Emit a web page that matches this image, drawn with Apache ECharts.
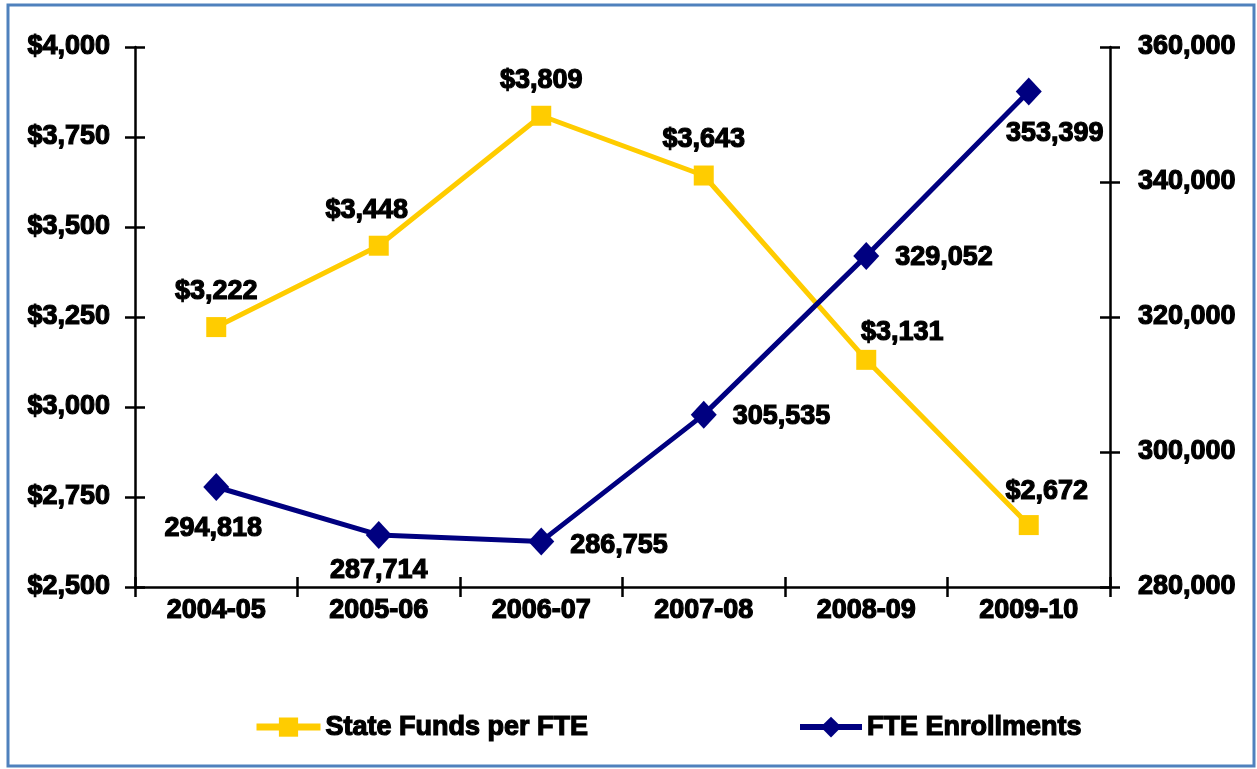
<!DOCTYPE html>
<html>
<head>
<meta charset="utf-8">
<script src="https://cdn.jsdelivr.net/npm/echarts@6/dist/echarts.min.js"></script>
<style>
    html, body { margin: 0; padding: 0; background: #fff; }
    #chart { width: 1257px; height: 769px; }
</style>
</head>
<body>
<div id="chart"></div>
<script>
    // data
    var years = ['2004-05', '2005-06', '2006-07', '2007-08', '2008-09', '2009-10'];
    var fundsPerFte = [3222, 3448, 3809, 3643, 3131, 2672];
    var enrollments = [294818, 287714, 286755, 305535, 329052, 353399];
    var leftTicks = [2500, 4000, 250];
    var rightTicks = [280000, 360000, 20000];

    // label placement per point
    var fundsLabelPos = [
        {position: 'top', offset: [0, 2]},
        {position: 'top', offset: [-12, 2]},
        {position: 'top', offset: [0, 2]},
        {position: 'top', offset: [0, 2]},
        {position: 'top', offset: [36, 10]},
        {position: 'top', offset: [18, 4]}
    ];
    var enrolLabelPos = [
        {position: 'bottom', offset: [-3, -2]},
        {position: 'bottom', offset: [0, -8]},
        {position: 'right', offset: [0, 4]},
        {position: 'right', offset: [0, 2]},
        {position: 'right', offset: [0, 2]},
        {position: 'bottom', offset: [26, -2]}
    ];

    var FONT = 'Liberation Sans';
    var txt = {color: '#000', fontFamily: FONT, fontWeight: 'bold', fontSize: 27,
        textBorderColor: '#000', textBorderWidth: 1.2};

    function money(v) {
        return '$' + v.toLocaleString('en-US');
    }
    function num(v) {
        return v.toLocaleString('en-US');
    }

    var chart = echarts.init(document.getElementById('chart'));

    var axisLine = {show: true, lineStyle: {color: '#000', width: 2.5}};
    var tickOut = {show: true, length: 10, lineStyle: {color: '#000', width: 2.5}};
    var tickIn = {show: true, inside: true, length: 10, lineStyle: {color: '#000', width: 2.5}};

    var legendText = {color: '#000', fontFamily: FONT, fontWeight: 'bold', fontSize: 27,
        textBorderColor: '#000', textBorderWidth: 1.2};

    var option = {
        animation: false,
        backgroundColor: '#fff',
        graphic: [{
            type: 'rect',
            shape: {x: 8, y: 5, width: 1246, height: 761},
            style: {fill: 'none', stroke: '#4F81BD', lineWidth: 3},
            z: 100
        }],
        legend: [{
            left: 248, top: 708,
            itemWidth: 64, itemHeight: 24, itemGap: 6,
            lineStyle: {width: 7},
            data: ['State Funds per FTE'],
            textStyle: legendText
        }, {
            left: 792, top: 708,
            itemWidth: 62, itemHeight: 26, itemGap: 6,
            lineStyle: {width: 6},
            data: ['FTE Enrollments'],
            textStyle: legendText
        }],
        grid: {left: 135, right: 147, top: 47, bottom: 182},
        xAxis: [{
            type: 'category',
            data: years,
            boundaryGap: true,
            axisLine: axisLine,
            axisTick: tickOut,
            axisLabel: Object.assign({margin: 10}, txt),
            splitLine: {show: false}
        }, {
            type: 'category',
            data: years,
            position: 'bottom',
            boundaryGap: true,
            axisLine: {show: false},
            axisTick: tickIn,
            axisLabel: {show: false},
            splitLine: {show: false}
        }],
        yAxis: [{
            type: 'value',
            position: 'left',
            min: leftTicks[0], max: leftTicks[1], interval: leftTicks[2],
            axisLine: axisLine,
            axisTick: tickOut,
            axisLabel: Object.assign({margin: 25, formatter: money}, txt),
            splitLine: {show: false}
        }, {
            type: 'value',
            position: 'right',
            min: rightTicks[0], max: rightTicks[1], interval: rightTicks[2],
            axisLine: axisLine,
            axisTick: tickOut,
            axisLabel: Object.assign({margin: 28, formatter: num}, txt),
            splitLine: {show: false}
        }, {
            type: 'value',
            position: 'left',
            min: leftTicks[0], max: leftTicks[1], interval: leftTicks[2],
            axisLine: {show: false},
            axisTick: tickIn,
            axisLabel: {show: false},
            splitLine: {show: false}
        }, {
            type: 'value',
            position: 'right',
            min: rightTicks[0], max: rightTicks[1], interval: rightTicks[2],
            axisLine: {show: false},
            axisTick: tickIn,
            axisLabel: {show: false},
            splitLine: {show: false}
        }],
        series: [{
            name: 'State Funds per FTE',
            type: 'line',
            yAxisIndex: 0,
            data: fundsPerFte.map(function (v, i) {
                return {
                    value: v,
                    label: Object.assign({show: true, distance: 14,
                        formatter: function (p) { return money(p.value); }}, txt, fundsLabelPos[i])
                };
            }),
            symbol: 'rect',
            symbolSize: 20,
            color: '#FFCC00',
            lineStyle: {color: '#FFCC00', width: 5},
            itemStyle: {color: '#FFCC00'},
            z: 2
        }, {
            name: 'FTE Enrollments',
            type: 'line',
            yAxisIndex: 1,
            data: enrollments.map(function (v, i) {
                return {
                    value: v,
                    label: Object.assign({show: true, distance: 16,
                        formatter: function (p) { return num(p.value); }}, txt, enrolLabelPos[i])
                };
            }),
            symbol: 'diamond',
            symbolSize: [26, 28],
            color: '#000080',
            lineStyle: {color: '#000080', width: 5},
            itemStyle: {color: '#000080'},
            z: 3
        }]
    };

    chart.setOption(option);
</script>
</body>
</html>
